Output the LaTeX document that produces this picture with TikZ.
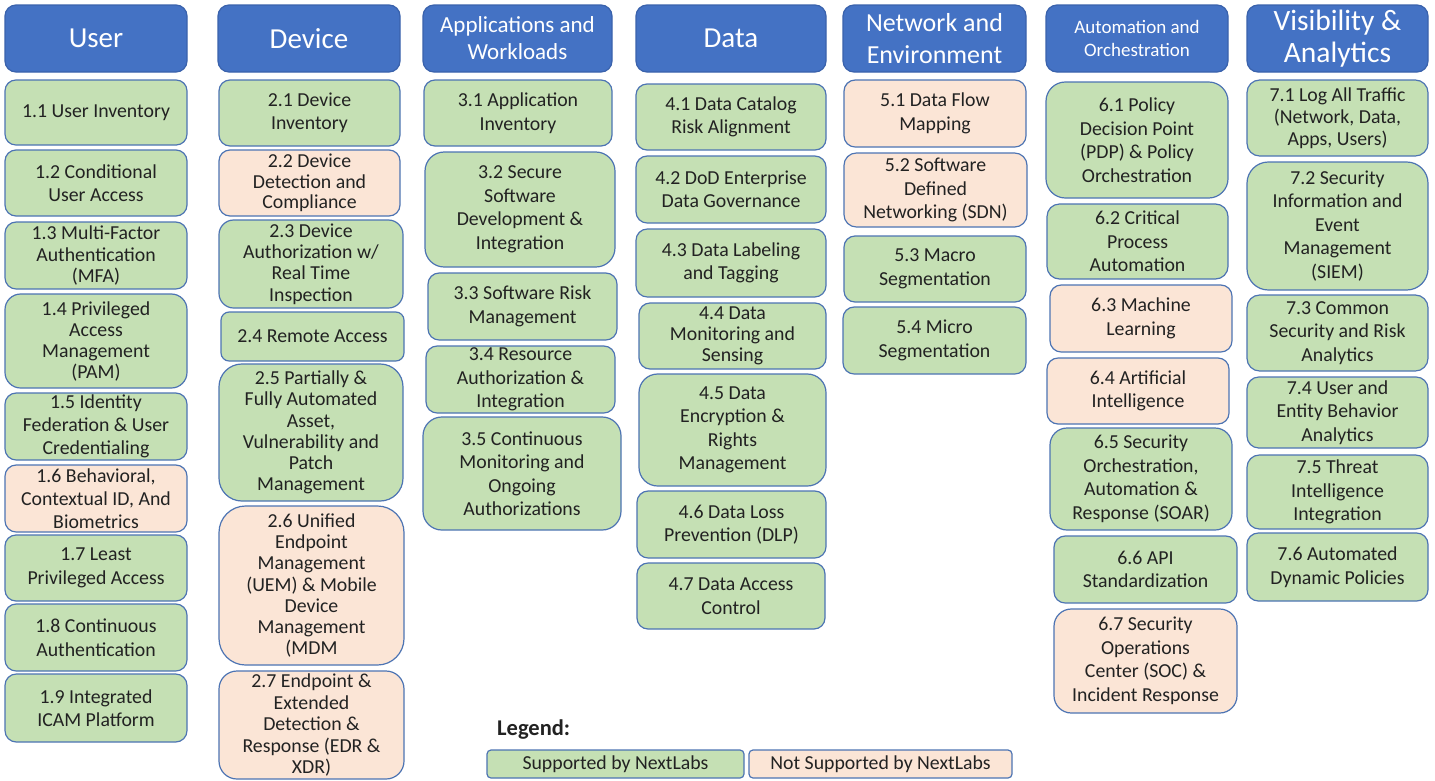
\documentclass[tikz,border=0pt]{standalone}
\usepackage{fontspec}
\setmainfont{Carlito}
\definecolor{hdrblue}{HTML}{4472C4}
\definecolor{hdrline}{HTML}{3A62AC}
\definecolor{okfill}{HTML}{C5E0B4}
\definecolor{nofill}{HTML}{FBE5D6}
\definecolor{boxline}{HTML}{4D74B3}
\definecolor{txtcol}{HTML}{222222}
\tikzset{
 hdrbox/.style={fill=hdrblue, draw=hdrline, line width=1.2pt},
 okbox/.style={fill=okfill, draw=boxline, line width=1.2pt},
 nobox/.style={fill=nofill, draw=boxline, line width=1.2pt},
 boxtext/.style={text=txtcol, align=center, inner sep=0pt},
 hdrtext/.style={text=white, align=center, inner sep=0pt},
}
% box: [leading] name style x1 y1 x2 y2 text
\newcommand\bx[8][23.5]{%
 \pgfmathsetmacro\myw{#6-#4}\pgfmathsetmacro\myh{#7-#5}\pgfmathsetmacro\myr{0.1667*min(\myw,\myh)}%
 \node[#3, minimum width=\myw pt, minimum height=\myh pt, rounded corners=\myr pt, inner sep=0pt] (#2) at ({(#4+#6)/2},{(#5+#7)/2}) {};
 \node[boxtext, font=\fontsize{19.8}{#1}\selectfont] (#2-t) at (#2.center) {#8};}
% header: name x1 x2 size leading text
\newcommand\hd[6]{%
 \pgfmathsetmacro\myw{#3-#2}%
 \node[hdrbox, minimum width=\myw pt, minimum height=67pt, rounded corners=11pt, inner sep=0pt] (#1) at ({(#2+#3)/2},38.5) {};
 \node[hdrtext, font=\fontsize{#4}{#5}\selectfont] (#1-t) at (#1.center) {#6};}
\begin{document}
\begin{tikzpicture}[x=1pt,y=-1pt]
\fill[white] (0,0) rectangle (1435,780);
\useasboundingbox (0,0) rectangle (1435,780);
% headers
\hd{h1}{5}{187}{29}{32}{User}
\hd{h2}{218}{400}{29}{32}{Device}
\hd{h3}{423}{612}{23}{27}{Applications and\\Workloads}
\hd{h4}{636}{826}{29}{32}{Data}
\hd{h5}{843}{1026}{26}{32}{Network and\\Environment}
\hd{h6}{1046}{1228}{19}{23.5}{Automation and\\Orchestration}
\hd{h7}{1247}{1428}{29.5}{32}{Visibility \&\\Analytics}
% column 1
\bx{b11}{okbox}{5}{80}{187}{145}{1.1 User Inventory}
\bx{b12}{okbox}{5}{150}{187}{216}{1.2 Conditional\\User Access}
\bx[21.3]{b13}{okbox}{5}{222}{187}{289}{1.3 Multi-Factor\\Authentication\\(MFA)}
\bx[21]{b14}{okbox}{5}{294}{187}{388}{1.4 Privileged\\Access\\Management\\(PAM)}
\bx[23]{b15}{okbox}{5}{393}{187}{460}{1.5 Identity\\Federation \& User\\Credentialing}
\bx[23.3]{b16}{nobox}{5}{465}{187}{532}{1.6 Behavioral,\\Contextual ID, And\\Biometrics}
\bx{b17}{okbox}{5}{535}{187}{601}{1.7 Least\\Privileged Access}
\bx{b18}{okbox}{5}{604}{187}{671}{1.8 Continuous\\Authentication}
\bx{b19}{okbox}{5}{674}{187}{742}{1.9 Integrated\\ICAM Platform}
% column 2
\bx{b21}{okbox}{219}{80}{400}{146}{2.1 Device\\Inventory}
\bx[20.5]{b22}{nobox}{219}{150}{400}{216}{2.2 Device\\Detection and\\Compliance}
\bx[21.3]{b23}{okbox}{219}{220}{403}{308}{2.3 Device\\Authorization w/\\Real Time\\Inspection}
\bx{b24}{okbox}{221}{312}{404}{361}{2.4 Remote Access}
\bx[21.3]{b25}{okbox}{219}{364}{403}{501}{2.5 Partially \&\\Fully Automated\\Asset,\\Vulnerability and\\Patch\\Management}
\bx[21.3]{b26}{nobox}{219}{506}{404}{665}{2.6 Unified\\Endpoint\\Management\\(UEM) \& Mobile\\Device\\Management\\(MDM}
\bx[21.5]{b27}{nobox}{219}{671}{404}{779}{2.7 Endpoint \&\\Extended\\Detection \&\\Response (EDR \&\\XDR)}
% column 3
\bx{b31}{okbox}{424}{80}{612}{146}{3.1 Application\\Inventory}
\bx{b32}{okbox}{425}{152}{615}{267}{3.2 Secure\\Software\\Development \&\\Integration}
\bx{b33}{okbox}{428}{273}{617}{340}{3.3 Software Risk\\Management}
\bx{b34}{okbox}{426}{346}{615}{413}{3.4 Resource\\Authorization \&\\Integration}
\bx{b35}{okbox}{423}{417}{621}{530}{3.5 Continuous\\Monitoring and\\Ongoing\\Authorizations}
% column 4
\bx{b41}{okbox}{636}{84}{826}{150}{4.1 Data Catalog\\Risk Alignment}
\bx{b42}{okbox}{636}{156}{826}{223}{4.2 DoD Enterprise\\Data Governance}
\bx{b43}{okbox}{636}{229}{826}{297}{4.3 Data Labeling\\and Tagging}
\bx[21]{b44}{okbox}{639}{303}{826}{369}{4.4 Data\\Monitoring and\\Sensing}
\bx{b45}{okbox}{639}{374}{826}{486}{4.5 Data\\Encryption \&\\Rights\\Management}
\bx{b46}{okbox}{637}{491}{826}{558}{4.6 Data Loss\\Prevention (DLP)}
\bx{b47}{okbox}{637}{563}{825}{629}{4.7 Data Access\\Control}
% column 5
\bx{b51}{nobox}{844}{80}{1026}{147}{5.1 Data Flow\\Mapping}
\bx{b52}{nobox}{844}{153}{1027}{227}{5.2 Software\\Defined\\Networking (SDN)}
\bx{b53}{okbox}{844}{236}{1026}{302}{5.3 Macro\\Segmentation}
\bx{b54}{okbox}{843}{307}{1026}{374}{5.4 Micro\\Segmentation}
% column 6
\bx{b61}{okbox}{1046}{82}{1228}{198}{6.1 Policy\\Decision Point\\(PDP) \& Policy\\Orchestration}
\bx{b62}{okbox}{1047}{204}{1228}{279}{6.2 Critical\\Process\\Automation}
\bx{b63}{nobox}{1050}{285}{1232}{352}{6.3 Machine\\Learning}
\bx{b64}{nobox}{1047}{358}{1229}{424}{6.4 Artificial\\Intelligence}
\bx{b65}{okbox}{1050}{428}{1232}{530}{6.5 Security\\Orchestration,\\Automation \&\\Response (SOAR)}
\bx{b66}{okbox}{1054}{536}{1237}{603}{6.6 API\\Standardization}
\bx{b67}{nobox}{1054}{609}{1237}{713}{6.7 Security\\Operations\\Center (SOC) \&\\Incident Response}
% column 7
\bx[22]{b71}{okbox}{1247}{80}{1428}{156}{7.1 Log All Traffic\\(Network, Data,\\Apps, Users)}
\bx{b72}{okbox}{1247}{162}{1428}{290}{7.2 Security\\Information and\\Event\\Management\\(SIEM)}
\bx{b73}{okbox}{1247}{295}{1428}{371}{7.3 Common\\Security and Risk\\Analytics}
\bx{b74}{okbox}{1247}{377}{1428}{448}{7.4 User and\\Entity Behavior\\Analytics}
\bx{b75}{okbox}{1247}{455}{1428}{529}{7.5 Threat\\Intelligence\\Integration}
\bx{b76}{okbox}{1247}{533}{1428}{601}{7.6 Automated\\Dynamic Policies}
% legend
\node[anchor=west, text=txtcol, inner sep=0pt, font=\fontsize{22.5}{26}\selectfont\bfseries] (leg) at (497,729) {Legend:};
\node[okbox, minimum width=257pt, minimum height=28pt, rounded corners=4pt, inner sep=0pt, text=txtcol, font=\fontsize{19.8}{23}\selectfont] (lok) at (615.5,764) {Supported by NextLabs};
\node[nobox, minimum width=263pt, minimum height=28pt, rounded corners=4pt, inner sep=0pt, text=txtcol, font=\fontsize{19.8}{23}\selectfont] (lno) at (880.5,764) {Not Supported by NextLabs};
\end{tikzpicture}
\end{document}
